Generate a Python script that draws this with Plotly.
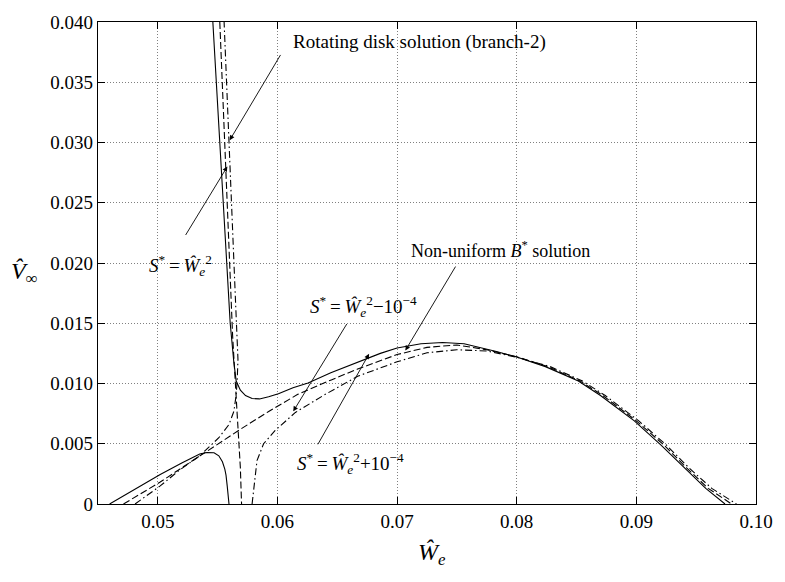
import plotly.graph_objects as go

# ---------------- data ----------------
# Solid line: lower-left branch
solid_lower_w = [0.04597, 0.0480, 0.0502, 0.0520, 0.0535, 0.0541, 0.0547, 0.0551, 0.0554, 0.0556, 0.0557, 0.0558, 0.05595]
solid_lower_v = [0.0, 0.00118, 0.00245, 0.0034, 0.00415, 0.00428, 0.00426, 0.0040, 0.0035, 0.0029, 0.0024, 0.0015, 0.0]

# Solid line: upper branch (vertical part, minimum, maximum, down to zero)
solid_upper_w = [0.05460, 0.05518, 0.05576, 0.05605, 0.05635, 0.05655, 0.05690, 0.05733, 0.05788, 0.05850,
                 0.05926, 0.06008, 0.06130, 0.06256, 0.06446, 0.06670, 0.06860, 0.07000, 0.07200, 0.07380,
                 0.07560, 0.07830, 0.08000, 0.08240, 0.08515, 0.08700, 0.08983, 0.09204, 0.09400, 0.09580, 0.09741]
solid_upper_v = [0.0400, 0.0300, 0.0200, 0.0150, 0.0118, 0.0102, 0.00945, 0.00900, 0.00875, 0.00872,
                 0.00890, 0.00915, 0.00965, 0.01005, 0.01090, 0.01180, 0.01250, 0.01295, 0.01330, 0.01340,
                 0.01330, 0.01265, 0.01220, 0.01140, 0.01020, 0.00900, 0.00690, 0.00490, 0.00300, 0.00130, 0.0]

# Dashed line: rotating disk solution (branch-2), near vertical
dash_rot_w = [0.05518, 0.05560, 0.05600, 0.05625, 0.05660, 0.05690, 0.05700]
dash_rot_v = [0.0400, 0.0300, 0.0200, 0.0140, 0.0080, 0.0030, 0.0]

# Dashed line: non-uniform B* solution
dash_nonu_w = [0.04713, 0.0490, 0.0502, 0.0520, 0.0535, 0.0552, 0.0569, 0.0593, 0.0617, 0.0645, 0.0667,
               0.0700, 0.0725, 0.0750, 0.0775, 0.0800, 0.0826, 0.0853, 0.0872, 0.0900, 0.0923, 0.0942, 0.0960, 0.09796]
dash_nonu_v = [0.0, 0.0011, 0.00182, 0.0030, 0.0040, 0.0051, 0.0062, 0.0077, 0.0091, 0.0103, 0.0112,
               0.0124, 0.0130, 0.0132, 0.0128, 0.01222, 0.0114, 0.0102, 0.0090, 0.0069, 0.0049, 0.0030, 0.0013, 0.0]

# Dash-dot line: left branch turning upward
dd_left_w = [0.04810, 0.0502, 0.0518, 0.0535, 0.0551, 0.05595, 0.05636, 0.05655, 0.05664, 0.05670,
             0.05650, 0.05616, 0.05583, 0.05554]
dd_left_v = [0.0, 0.0015, 0.0028, 0.0040, 0.0055, 0.0066, 0.0077, 0.00906, 0.0104, 0.0120,
             0.0167, 0.0250, 0.0330, 0.0400]

# Dash-dot line: right branch rising from the axis
dd_right_w = [0.05788, 0.05802, 0.05829, 0.05884, 0.05981, 0.0615, 0.0640, 0.0667, 0.0700, 0.0725, 0.0750,
              0.0775, 0.0800, 0.0828, 0.0855, 0.0874, 0.0902, 0.0925, 0.0944, 0.0963, 0.09837]
dd_right_v = [0.0, 0.0014, 0.0036, 0.0050, 0.0061, 0.0076, 0.0091, 0.0106, 0.0118, 0.01255, 0.0128,
              0.0127, 0.01218, 0.0114, 0.0102, 0.0090, 0.0069, 0.0049, 0.0030, 0.0013, 0.0]

x_ticks = [0.05, 0.06, 0.07, 0.08, 0.09, 0.10]
x_ticktext = ["0.05", "0.06", "0.07", "0.08", "0.09", "0.10"]
y_ticks = [0.0, 0.005, 0.010, 0.015, 0.020, 0.025, 0.030, 0.035, 0.040]
y_ticktext = ["0", "0.005", "0.010", "0.015", "0.020", "0.025", "0.030", "0.035", "0.040"]

# ---------------- figure ----------------
FONT = "Liberation Serif"
DASH = "7px,3px"
DASHDOT = "7px,3px,1.5px,3px"

fig = go.Figure()

def add_line(w, v, dash):
    fig.add_trace(go.Scatter(x=w, y=v, mode="lines",
                             line=dict(color="black", width=1.1, dash=dash),
                             showlegend=False, hoverinfo="skip"))

add_line(solid_lower_w, solid_lower_v, "solid")
add_line(solid_upper_w, solid_upper_v, "solid")
add_line(dash_rot_w, dash_rot_v, DASH)
add_line(dash_nonu_w, dash_nonu_v, DASH)
add_line(dd_left_w, dd_left_v, DASHDOT)
add_line(dd_right_w, dd_right_v, DASHDOT)

S0 = "<i>S</i><sup>*</sup>\u2009=\u2009<i>\u0174</i><sub><i>e</i></sub><sup>2</sup>"

# arrows: (tip_w, tip_v, tail_w, tail_v)
arrows = [
    (0.05601, 0.03019, 0.06033, 0.03739),   # rotating disk
    (0.05581, 0.02800, 0.05225, 0.02220),   # S* = We^2
    (0.07069, 0.01274, 0.07496, 0.01983),   # non-uniform
    (0.06132, 0.00769, 0.06587, 0.01506),   # minus
    (0.06766, 0.01246, 0.06331, 0.00483),   # plus
]
for tw, tv, aw, av in arrows:
    fig.add_annotation(x=tw, y=tv, ax=aw, ay=av, xref="x", yref="y", axref="x", ayref="y",
                       text="", showarrow=True, arrowhead=2, arrowsize=1.1, arrowwidth=0.9,
                       arrowcolor="black")

labels = [
    (0.06116, 0.03837, "left", "Rotating disk solution (branch-2)", 19),
    (0.05471, 0.01980, "right", S0, 19),
    (0.07097, 0.02111, "left", "Non-uniform <i>B</i><sup>*</sup> solution", 18),
    (0.06256, 0.01640, "left", S0 + "\u221210<sup>\u22124</sup>", 19),
    (0.06149, 0.00340, "left", S0 + "+10<sup>\u22124</sup>", 19),
]
for lx, ly, anc, txt, fs in labels:
    fig.add_annotation(x=lx, y=ly, xref="x", yref="y", text=txt, showarrow=False,
                       xanchor=anc, yanchor="middle",
                       font=dict(family=FONT, size=fs, color="black"))

# axis titles
fig.add_annotation(x=-0.111, y=0.48, xref="paper", yref="paper", showarrow=False,
                   text="<i>V\u0302</i><sub>\u221e</sub>", xanchor="center", yanchor="middle",
                   font=dict(family=FONT, size=24, color="black"))
fig.add_annotation(x=0.507, y=-0.104, xref="paper", yref="paper", showarrow=False,
                   text="<i>\u0174</i><sub><i>e</i></sub>", xanchor="center", yanchor="middle",
                   font=dict(family=FONT, size=24, color="black"))

axis_common = dict(showline=True, linecolor="black", linewidth=1.2, mirror="ticks",
                   ticks="inside", ticklen=7, tickcolor="black", tickwidth=1,
                   showgrid=True, gridcolor="#808080", gridwidth=1, griddash="1px,2px",
                   zeroline=False, ticklabeloverflow="allow",
                   tickfont=dict(family=FONT, size=19, color="black"))

fig.update_xaxes(range=[0.045, 0.10], tickvals=x_ticks, ticktext=x_ticktext, **axis_common)
fig.update_yaxes(range=[0.0, 0.040], tickvals=y_ticks, ticktext=y_ticktext, **axis_common)

fig.update_layout(width=785, height=582, margin=dict(l=98, r=22, t=15, b=78),
                  plot_bgcolor="white", paper_bgcolor="white", showlegend=False,
                  font=dict(family=FONT, color="black"))

# remove the default page margin so the 785x582 figure fills the window exactly
fig.write_html("out.html", config={"displayModeBar": False, "staticPlot": True},
               post_script="document.body.style.margin='0';document.body.style.overflow='hidden';")
